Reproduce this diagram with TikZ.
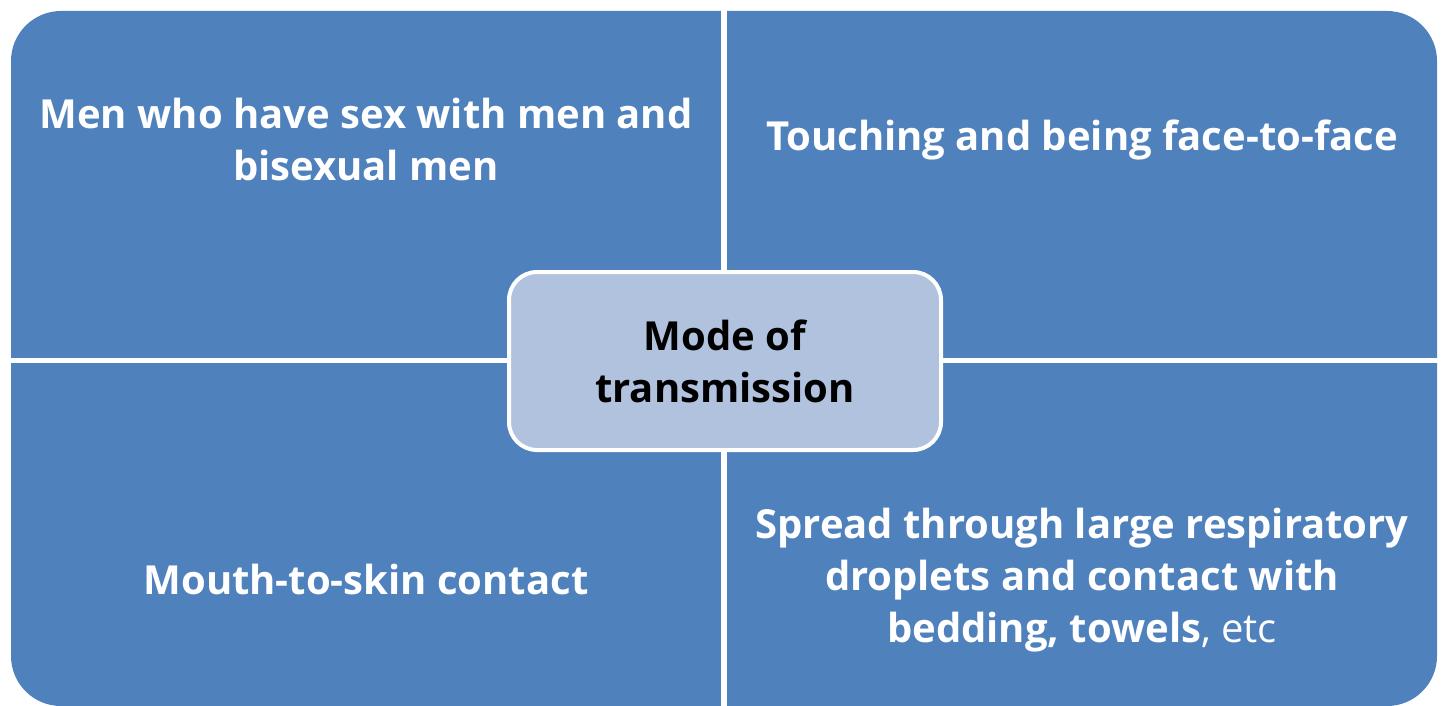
\documentclass[tikz,border=0pt]{standalone}
\usepackage{fontspec}
\setmainfont{Open Sans}
\definecolor{quadblue}{RGB}{79,129,189}
\definecolor{centerfill}{RGB}{177,194,222}
\begin{document}
\begin{tikzpicture}[x=1pt,y=-1pt,
  quadtext/.style={text=white,font=\fontsize{40}{52}\selectfont\bfseries,align=center,inner sep=0pt},
  centerbox/.style={draw=white,line width=4pt,fill=centerfill,rounded corners=28pt,text=black,
    font=\fontsize{40}{52}\selectfont\bfseries,align=center,inner sep=0pt}]
\useasboundingbox (0,0) rectangle (1443,706);
% outer rounded shape split into four quadrants
\fill[quadblue,rounded corners=50pt] (11,11) rectangle (1437,706);
\fill[white] (721,0) rectangle (727,706);
\fill[white] (0,358) rectangle (1443,363);
% quadrant texts
\node[quadtext] (tl) at (366,139) {Men who have sex with men and\\bisexual men};
\node[quadtext] (tr) at (1082,140) {Touching and being face-to-face};
\node[quadtext] (bl) at (366,579) {Mouth-to-skin contact};
\node[quadtext] (br) at (1082,580) {Spread through large respiratory\\droplets and contact with\\bedding, towels{\mdseries, etc}};
% centre box
\node[centerbox,minimum width=432pt,minimum height=178pt] (c) at (725,361) {Mode of\\transmission};
\end{tikzpicture}
\end{document}
